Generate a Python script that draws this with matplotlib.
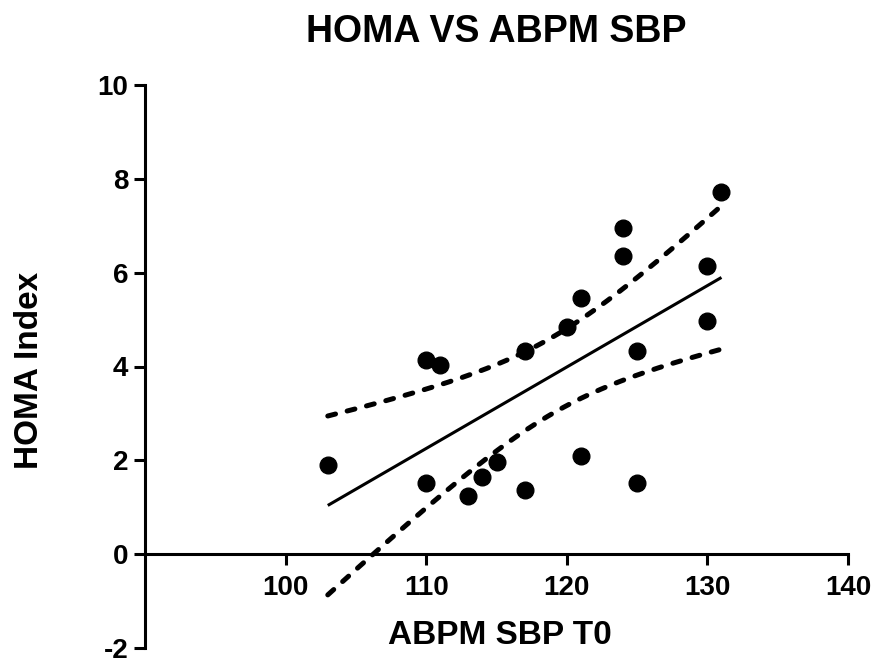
import numpy as np
import matplotlib
matplotlib.use("Agg")
import matplotlib.pyplot as plt

plt.rcParams['font.family'] = ['Liberation Sans', 'DejaVu Sans']
plt.rcParams['font.weight'] = 'bold'
plt.rcParams['axes.unicode_minus'] = False

# Data
sbp = [103, 110, 110, 111, 113, 114, 115, 117, 117, 120, 121, 121,
       124, 124, 125, 125, 130, 130, 131]
homa = [1.90, 4.13, 1.52, 4.03, 1.23, 1.64, 1.96, 4.33, 1.37, 4.84, 5.45, 2.10,
        6.96, 6.35, 4.33, 1.52, 6.15, 4.96, 7.72]

title = "HOMA VS ABPM SBP"
xlabel = "ABPM SBP T0"
ylabel = "HOMA Index"
xticks = [100, 110, 120, 130, 140]
yticks = [-2, 0, 2, 4, 6, 8, 10]

x = np.array(sbp, dtype=float)
y = np.array(homa, dtype=float)
n = len(x)
slope, intercept = np.polyfit(x, y, 1)
resid = y - (slope * x + intercept)
s = np.sqrt(np.sum(resid ** 2) / (n - 2))
sxx = np.sum((x - x.mean()) ** 2)
t_crit = 2.110  # t(0.975, df=17)
xf = np.linspace(x.min(), x.max(), 200)
yf = slope * xf + intercept
half = t_crit * s * np.sqrt(1.0 / n + (xf - x.mean()) ** 2 / sxx)

fig = plt.figure(figsize=(8.75, 6.63), dpi=100)
ax = fig.add_axes([145 / 875, (663 - 648) / 663, (848 - 145) / 875, (648 - 85) / 663])

ax.plot(xf, yf, color='black', lw=2.2, solid_capstyle='butt', zorder=2)
for band in (yf + half, yf - half):
    ln, = ax.plot(xf, band, color='black', lw=3.6, zorder=2)
    ln.set_dashes((1.6, 2.4))
    ln.set_dash_capstyle('round')
ax.plot(x, y, 'o', color='black', markersize=12, zorder=3, clip_on=False)

ax.set_xlim(90, 140)
ax.set_ylim(-2, 10)
ax.spines['top'].set_visible(False)
ax.spines['right'].set_visible(False)
ax.spines['bottom'].set_position(('data', 0))
for sp in ('left', 'bottom'):
    ax.spines[sp].set_linewidth(2.2)
    ax.spines[sp].set_capstyle('projecting')
ax.set_xticks(xticks)
ax.set_yticks(yticks)
ax.tick_params(axis='both', direction='out', length=8, width=2.2, labelsize=20)
ax.tick_params(axis='x', pad=7)
ax.tick_params(axis='y', pad=4)
for lab in ax.get_xticklabels() + ax.get_yticklabels():
    lab.set_fontweight('bold')

fig.text(496 / 875, 1 - 32 / 663, title, ha='center', va='center', fontsize=27, fontweight='bold')
fig.text(500 / 875, 1 - 636 / 663, xlabel, ha='center', va='center', fontsize=24, fontweight='bold')
fig.text(30 / 875, 1 - 370 / 663, ylabel, ha='center', va='center', rotation=90, fontsize=24, fontweight='bold')

fig.savefig('out.png', dpi=100)
